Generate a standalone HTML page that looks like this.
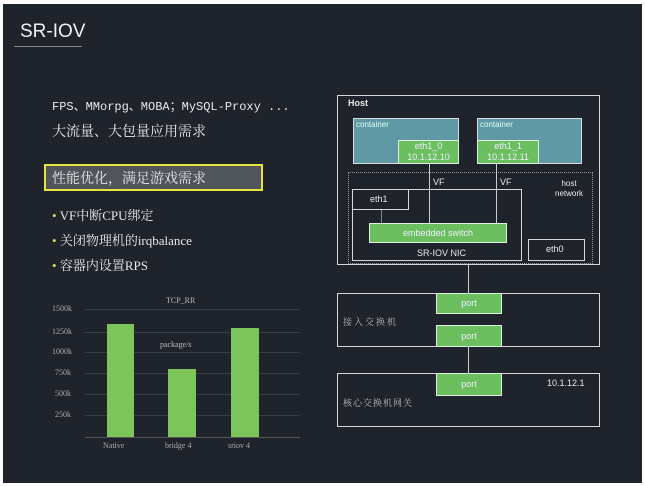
<!DOCTYPE html>
<html><head><meta charset="utf-8"><style>
body{margin:0;width:645px;height:486px;background:#fff;position:relative;overflow:hidden;font-family:"Liberation Sans","Noto Sans CJK SC",sans-serif}
.p{position:absolute;left:3px;top:4px;width:639px;height:479px;background:#1f232b}
.a{position:absolute;box-sizing:border-box}
.t{position:absolute;color:#e8e8e8;white-space:nowrap}
.w{border:1.5px solid #d8d8d8}
.g{background:#6cbf5f;color:#eef;font-size:9px;text-align:center;border:1px solid #e0f0e0}
.l{position:absolute;background:#ccc}
.s{font-family:"Liberation Serif","Noto Serif CJK SC",serif}
</style></head><body>
<div class="p"></div>
<div class="t" style="left:20px;top:21px;font-size:19px;color:#f0f0f0">SR-IOV</div>
<div class="l" style="left:14px;top:46px;width:68px;height:1px;background:#888"></div>
<div class="t s" style="left:52px;top:97px;font-size:12px;font-family:'Liberation Mono','Noto Sans CJK SC',monospace">FPS、MMorpg、MOBA；MySQL-Proxy ...</div>
<div class="t s" style="left:52px;top:121px;font-size:14px">大流量、大包量应用需求</div>
<div class="a" style="left:44px;top:164px;width:219px;height:27px;background:#50555c;border:2px solid #e6e63a"></div>
<div class="t s" style="left:52px;top:168px;font-size:14px">性能优化，满足游戏需求</div>
<div class="t s" style="left:52px;top:205px;font-size:13px"><span style="color:#c8e060">•</span> VF中断CPU绑定</div>
<div class="t s" style="left:52px;top:230px;font-size:13px"><span style="color:#c8e060">•</span> 关闭物理机的irqbalance</div>
<div class="t s" style="left:52px;top:255px;font-size:13px"><span style="color:#c8e060">•</span> 容器内设置RPS</div>
<!-- chart -->
<div class="t s" style="left:166px;top:296px;font-size:8px;color:#bbb">TCP_RR</div>
<div class="t s" style="left:160px;top:340px;font-size:8px;color:#bbb">package/s</div>
<div class="t s" style="left:52px;top:304px;font-size:8px;color:#aaa">1500k</div>
<div class="t s" style="left:52px;top:327px;font-size:8px;color:#aaa">1250k</div>
<div class="t s" style="left:52px;top:347px;font-size:8px;color:#aaa">1000k</div>
<div class="t s" style="left:55px;top:368px;font-size:8px;color:#aaa">750k</div>
<div class="t s" style="left:55px;top:389px;font-size:8px;color:#aaa">500k</div>
<div class="t s" style="left:55px;top:410px;font-size:8px;color:#aaa">250k</div>
<div class="l" style="left:85px;top:309px;width:215px;height:1px;background:#3a3e46"></div>
<div class="l" style="left:85px;top:332px;width:215px;height:1px;background:#3a3e46"></div>
<div class="l" style="left:85px;top:352px;width:215px;height:1px;background:#3a3e46"></div>
<div class="l" style="left:85px;top:373px;width:215px;height:1px;background:#3a3e46"></div>
<div class="l" style="left:85px;top:394px;width:215px;height:1px;background:#3a3e46"></div>
<div class="l" style="left:85px;top:415px;width:215px;height:1px;background:#3a3e46"></div>
<div class="l" style="left:85px;top:437px;width:215px;height:1px;background:#555"></div>
<div class="a" style="left:107px;top:324px;width:27px;height:113px;background:#7cc55a"></div>
<div class="a" style="left:168px;top:369px;width:28px;height:68px;background:#7cc55a"></div>
<div class="a" style="left:231px;top:328px;width:28px;height:109px;background:#7cc55a"></div>
<div class="t s" style="left:103px;top:441px;font-size:8px;color:#aaa">Native</div>
<div class="t s" style="left:165px;top:441px;font-size:8px;color:#aaa">bridge 4</div>
<div class="t s" style="left:228px;top:441px;font-size:8px;color:#aaa">sriov 4</div>
<!-- host -->
<div class="a w" style="left:337px;top:95px;width:263px;height:170px"></div>
<div class="t" style="left:348px;top:98px;font-size:9px;font-weight:bold">Host</div>
<div class="a" style="left:353px;top:118px;width:106px;height:46px;background:#5e99a5;border:1px solid #ddd"></div>
<div class="t" style="left:356px;top:120px;font-size:8px;color:#dfe">container</div>
<div class="a g" style="left:398px;top:140px;width:61px;height:24px;line-height:11px">eth1_0<br>10.1.12.10</div>
<div class="a" style="left:477px;top:118px;width:105px;height:46px;background:#5e99a5;border:1px solid #ddd"></div>
<div class="t" style="left:480px;top:120px;font-size:8px;color:#dfe">container</div>
<div class="a g" style="left:477px;top:140px;width:62px;height:24px;line-height:11px">eth1_1<br>10.1.12.11</div>
<div class="a" style="left:348px;top:172px;width:245px;height:92px;border:1.5px dotted #999"></div>
<div class="t" style="left:555px;top:179px;font-size:8px;text-align:center;line-height:10px">host<br>network</div>
<div class="l" style="left:429px;top:164px;width:1px;height:59px"></div>
<div class="l" style="left:496px;top:164px;width:1px;height:59px"></div>
<div class="t" style="left:433px;top:177px;font-size:9px">VF</div>
<div class="t" style="left:500px;top:177px;font-size:9px">VF</div>
<div class="a w" style="left:352px;top:189px;width:170px;height:72px"></div>
<div class="a w" style="left:352px;top:189px;width:57px;height:21px"></div>
<div class="t" style="left:370px;top:194px;font-size:9px">eth1</div>
<div class="l" style="left:381px;top:210px;width:1px;height:13px;background:#888"></div>
<div class="a g" style="left:369px;top:223px;width:138px;height:20px;line-height:18px;font-size:9px">embedded switch</div>
<div class="t" style="left:417px;top:248px;font-size:9px">SR-IOV NIC</div>
<div class="a w" style="left:528px;top:239px;width:57px;height:22px"></div>
<div class="t" style="left:546px;top:244px;font-size:9px">eth0</div>
<div class="l" style="left:468px;top:265px;width:1px;height:28px"></div>
<!-- switches -->
<div class="a w" style="left:337px;top:293px;width:263px;height:54px"></div>
<div class="a g" style="left:436px;top:293px;width:66px;height:21px;line-height:19px">port</div>
<div class="a g" style="left:436px;top:325px;width:66px;height:22px;line-height:20px">port</div>
<div class="t s" style="left:343px;top:315px;font-size:9px;color:#bbb;letter-spacing:2px">接入交换机</div>
<div class="l" style="left:468px;top:347px;width:1px;height:26px"></div>
<div class="a w" style="left:337px;top:373px;width:263px;height:54px"></div>
<div class="a g" style="left:436px;top:373px;width:66px;height:23px;line-height:21px">port</div>
<div class="t" style="left:547px;top:378px;font-size:9px">10.1.12.1</div>
<div class="t s" style="left:343px;top:396px;font-size:9px;color:#bbb;letter-spacing:1px">核心交换机网关</div>
</body></html>
